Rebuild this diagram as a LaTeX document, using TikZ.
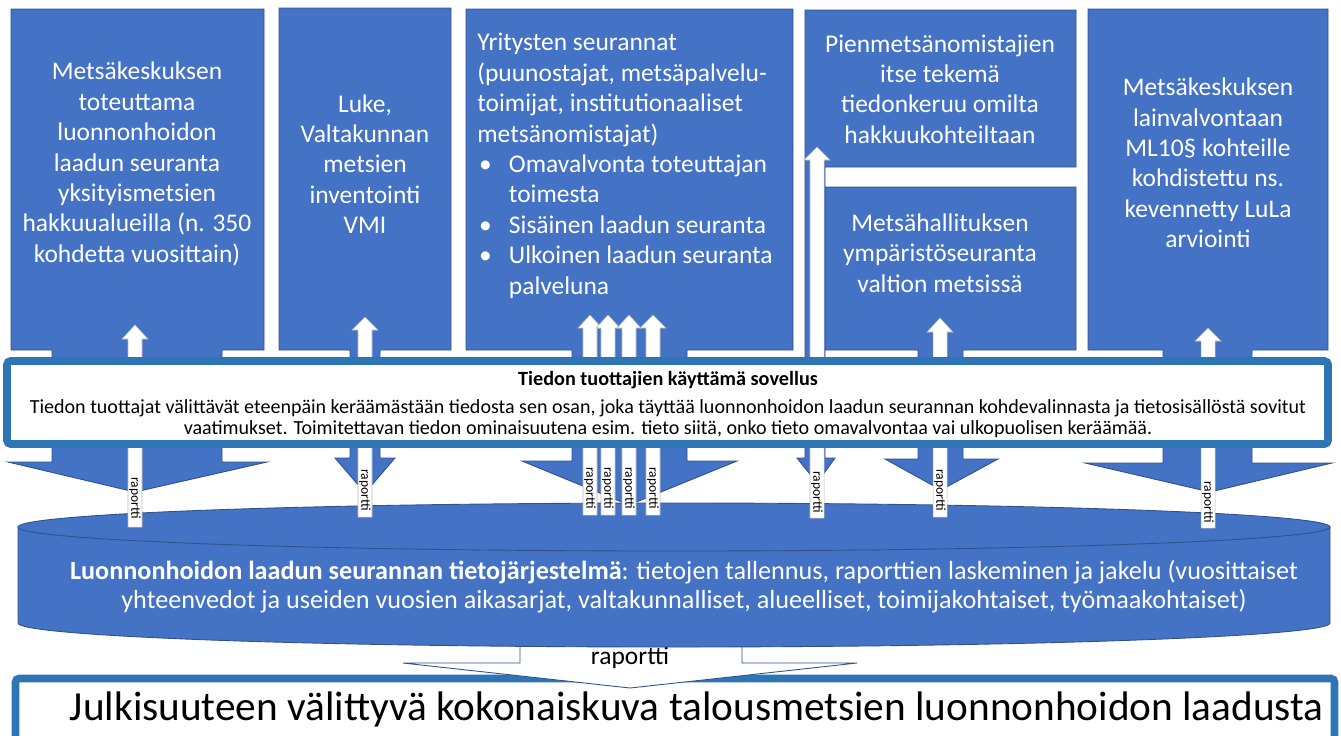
\documentclass[tikz,border=0pt]{standalone}
\usepackage{fontspec}
\setmainfont{Carlito}
\usepackage{tikz}
\usetikzlibrary{positioning,calc}
\definecolor{boxblue}{HTML}{4472C4}
\definecolor{boxedge}{HTML}{2F528F}
\definecolor{appblue}{HTML}{2E75B6}
\tikzstyle{callout}=[fill=boxblue,draw=boxedge,line width=0.5pt]
\tikzstyle{framebox}=[fill=white,draw=appblue,line width=4.3pt,rounded corners=2pt]

\begin{document}
\begin{tikzpicture}[x=0.02cm,y=-0.02cm,
  boxtext/.style={text=white,align=center,inner sep=0pt,font=\fontsize{14.5}{17.3}\selectfont},
  uparr/.style={fill=white,draw=gray!55,line width=0.3pt},
  downarr/.style={fill=white,draw=boxedge,line width=0.5pt},
  lbl/.style={rotate=-90,inner sep=0pt,font=\fontsize{7.7}{8}\selectfont}]
\useasboundingbox (0,0) rectangle (1341,735);

% sources, each a box with a stem pointing down
\draw[callout] (11,9) -- (264,9) -- (264,350) -- (222,350) -- (222,462) -- (267,462) -- (135,492) -- (8,462) -- (52,462) -- (52,350) -- (11,350) -- cycle;
\draw[callout] (279,8) -- (451,8) -- (451,350) -- (380,350) -- (380,458) -- (395,458) -- (365,493) -- (335,458) -- (350,458) -- (350,350) -- (279,350) -- cycle;
\draw[callout] (466,9) -- (793,9) -- (793,350) -- (687,350) -- (687,461) -- (737,461) -- (629,505) -- (522,461) -- (572,461) -- (572,350) -- (466,350) -- cycle;
\draw[callout] (825,187) -- (1076,187) -- (1076,350) -- (963,350) -- (963,459) -- (998,459) -- (941,490) -- (885,459) -- (918,459) -- (918,350) -- (825,350) -- cycle;
\draw[callout] (805,10) -- (1076,10) -- (1076,167) -- (825,167) -- (825,458) -- (835,458) -- (817,483) -- (797,458) -- (805,458) -- cycle;
\draw[callout] (1088,9) -- (1328,9) -- (1328,350) -- (1252,350) -- (1252,463) -- (1332,463) -- (1210,492) -- (1085,463) -- (1163,463) -- (1163,350) -- (1088,350) -- cycle;

\node[boxtext] (mk) at (137,164) {Metsäkeskuksen\\toteuttama\\luonnonhoidon\\laadun seuranta\\yksityismetsien\\hakkuualueilla (n. 350\\kohdetta vuosittain)};
\node[boxtext] (vmi) at (365,164) {Luke,\\Valtakunnan\\metsien\\inventointi\\VMI};
\node[boxtext,align=left,anchor=north west] (yr) at (477,33) {Yritysten seurannat\\(puunostajat, metsäpalvelu-\\toimijat, institutionaaliset\\metsänomistajat)\\
  \rlap{\hspace{1pt}\textbullet}\hspace{18pt}Omavalvonta toteuttajan\\\hspace{18pt}toimesta\\
  \rlap{\hspace{1pt}\textbullet}\hspace{18pt}Sisäinen laadun seuranta\\
  \rlap{\hspace{1pt}\textbullet}\hspace{18pt}Ulkoinen laadun seuranta\\\hspace{18pt}palveluna};
\node[boxtext] (pien) at (940,89) {Pienmetsänomistajien\\itse tekemä\\tiedonkeruu omilta\\hakkuukohteiltaan};
\node[boxtext] (mh) at (940,253) {Metsähallituksen\\ympäristöseuranta\\valtion metsissä};
\node[boxtext] (luval) at (1208,163) {Metsäkeskuksen\\lainvalvontaan\\ML10§ kohteille\\kohdistettu ns.\\kevennetty LuLa\\arviointi};

% public picture
\draw[framebox] (15.5,678.5) rectangle (1334.5,740);
\node[inner sep=0pt,font=\fontsize{23.5}{27}\selectfont] (julk) at (697,709) {Julkisuuteen välittyvä kokonaiskuva talousmetsien luonnonhoidon laadusta};
\draw[downarr] (520,636) -- (520,663) -- (403,663) -- (630,688) -- (857,663) -- (742,663) -- (742,636) -- cycle;
\node[inner sep=0pt,font=\fontsize{14.5}{17}\selectfont] (rap) at (630,658) {raportti};

% database cylinder
\draw[callout] (18,527) -- (18,623) .. controls (18,636.3) and (311.7,647) .. (674,647) .. controls (1036.3,647) and (1330,636.3) .. (1330,623) -- (1330,527) -- cycle;
\draw[callout] (18,527) .. controls (18,513.7) and (311.7,503) .. (674,503) .. controls (1036.3,503) and (1330,513.7) .. (1330,527) .. controls (1330,540.3) and (1036.3,551) .. (674,551) .. controls (311.7,551) and (18,540.3) .. (18,527) -- cycle;
\node[boxtext,inner sep=0pt,font=\fontsize{14.9}{16.5}\selectfont] (tj) at (684,587) {\textbf{Luonnonhoidon laadun seurannan tietojärjestelmä}: tietojen tallennus, raporttien laskeminen ja jakelu (vuosittaiset\\yhteenvedot ja useiden vuosien aikasarjat, valtakunnalliset, alueelliset, toimijakohtaiset, työmaakohtaiset)};

% report arrows up to the sources
\draw[uparr] (128,527) -- (128,339) -- (122,339) -- (135,325) -- (148,339) -- (142,339) -- (142,527) -- cycle;
\draw[uparr] (358,517) -- (358,330) -- (352,330) -- (365,317) -- (378,330) -- (372,330) -- (372,517) -- cycle;
\draw[uparr] (583,515) -- (583,328) -- (578,328) -- (590,315) -- (602,328) -- (597,328) -- (597,515) -- cycle;
\draw[uparr] (601,515) -- (601,328) -- (596,328) -- (608,315) -- (620,328) -- (615,328) -- (615,515) -- cycle;
\draw[uparr] (622,515) -- (622,328) -- (617,328) -- (629,315) -- (641,328) -- (636,328) -- (636,515) -- cycle;
\draw[uparr] (646,515) -- (646,328) -- (640,328) -- (653,315) -- (666,328) -- (660,328) -- (660,515) -- cycle;
\draw[uparr] (810,518) -- (810,160) -- (804,160) -- (817,147) -- (830,160) -- (824,160) -- (824,518) -- cycle;
\draw[uparr] (933,517) -- (933,332) -- (927,332) -- (940,318) -- (953,332) -- (947,332) -- (947,517) -- cycle;
\draw[uparr] (1201,528) -- (1201,341) -- (1195,341) -- (1208,328) -- (1221,341) -- (1215,341) -- (1215,528) -- cycle;

% application box
\draw[framebox] (7,361) rectangle (1328,444);
\node[inner sep=0pt,font=\bfseries\fontsize{11.5}{13}\selectfont] (sov) at (668,380) {Tiedon tuottajien käyttämä sovellus};
\node[align=center,inner sep=0pt,font=\fontsize{11.4}{12.2}\selectfont,below=5.5pt of sov] (sovtxt) {Tiedon tuottajat välittävät eteenpäin keräämästään tiedosta sen osan, joka täyttää luonnonhoidon laadun seurannan kohdevalinnasta ja tietosisällöstä sovitut\\vaatimukset. Toimitettavan tiedon ominaisuutena esim. tieto siitä, onko tieto omavalvontaa vai ulkopuolisen keräämää.};

\node[lbl] (r1) at (135,498) {raportti};
\node[lbl] (r2) at (365,490) {raportti};
\node[lbl] (r3) at (590,488) {raportti};
\node[lbl] (r4) at (608,488) {raportti};
\node[lbl] (r5) at (629,488) {raportti};
\node[lbl] (r6) at (653,488) {raportti};
\node[lbl] (r7) at (817,492) {raportti};
\node[lbl] (r8) at (940,490) {raportti};
\node[lbl] (r9) at (1208,502) {raportti};
\end{tikzpicture}
\end{document}
